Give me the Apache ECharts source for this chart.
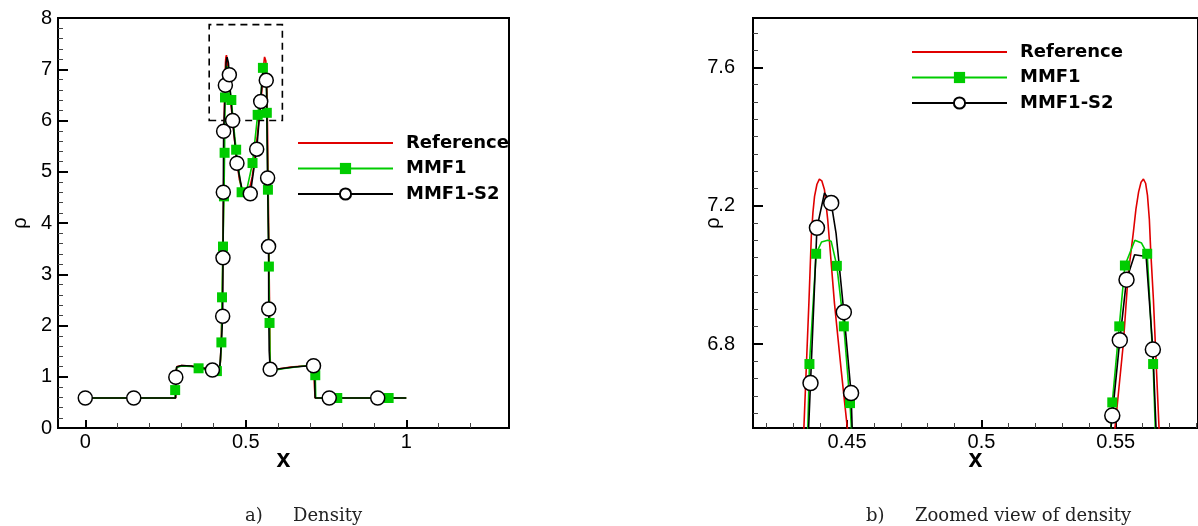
<!DOCTYPE html>
<html>
<head>
<meta charset="utf-8">
<script src="https://cdn.jsdelivr.net/npm/echarts@6/dist/echarts.min.js"></script>
<style>
  html, body { margin: 0; padding: 0; background: #fff; }
  #chart { width: 1198px; height: 526px; }
</style>
</head>
<body>
<div id="chart"></div>
<script>
// Density profiles rho(x): high-resolution reference and the two schemes
const referenceCurve = [
  [0, 0.585], [0.2815, 0.585], [0.2825, 1.12], [0.286, 1.2], [0.30, 1.22], [0.33, 1.21], [0.36, 1.18],
  [0.39, 1.14], [0.41, 1.12], [0.418, 1.13], [0.421, 1.3], [0.424, 1.8], [0.427, 2.6], [0.429, 3.5],
  [0.431, 4.6], [0.4325, 5.6], [0.4339, 6.55], [0.4348, 6.726], [0.4358, 6.919], [0.4367, 7.111],
  [0.4373, 7.18], [0.4379, 7.227], [0.4388, 7.262], [0.4397, 7.277], [0.4406, 7.272], [0.4416, 7.246],
  [0.4428, 7.16], [0.4453, 6.919], [0.4478, 6.726],
  [0.4499, 6.572], [0.452, 6.42], [0.46, 5.95], [0.47, 5.3], [0.48, 4.85], [0.49, 4.62], [0.50, 4.56],
  [0.51, 4.62], [0.52, 4.9], [0.53, 5.35], [0.54, 5.95], [0.5497, 6.557], [0.5528, 6.8], [0.5546, 7.0],
  [0.5565, 7.12], [0.5575, 7.19], [0.5585, 7.24], [0.5594, 7.268], [0.5603, 7.277], [0.5611, 7.265],
  [0.5618, 7.23], [0.5625, 7.16], [0.5630, 7.07], [0.5640, 6.93],
  [0.5650, 6.75], [0.5661, 6.557], [0.568, 5.7], [0.570, 4.6], [0.572, 3.5], [0.574, 2.4], [0.5755, 1.5],
  [0.577, 1.15], [0.58, 1.13], [0.60, 1.15], [0.64, 1.19], [0.68, 1.21], [0.708, 1.22], [0.712, 1.15],
  [0.714, 0.8], [0.716, 0.585], [1, 0.585]
];
const mmf1Curve = [
  [0, 0.585], [0.2795, 0.585], [0.2815, 0.9], [0.2845, 1.18], [0.30, 1.21], [0.33, 1.2], [0.353, 1.165],
  [0.38, 1.13], [0.41, 1.11], [0.418, 1.12], [0.421, 1.3], [0.424, 1.67], [0.426, 2.55], [0.429, 3.54],
  [0.432, 4.52], [0.434, 5.37], [0.4354, 6.557], [0.4360, 6.742], [0.4385, 7.061], [0.4405, 7.095],
  [0.4428, 7.1], [0.4441, 7.097], [0.4462, 7.026], [0.4488, 6.851], [0.4511, 6.629], [0.4516, 6.557],
  [0.455, 6.4], [0.462, 5.9], [0.470, 5.43], [0.487, 4.6], [0.50, 4.56], [0.521, 5.17], [0.537, 6.11],
  [0.5482, 6.557], [0.5487, 6.631], [0.5513, 6.851], [0.5534, 7.027], [0.5571, 7.1], [0.5596, 7.092],
  [0.5617, 7.061], [0.5639, 6.742], [0.5647, 6.557], [0.5655, 6.15], [0.569, 4.65], [0.572, 3.15],
  [0.574, 2.05], [0.576, 1.2], [0.58, 1.12], [0.62, 1.16], [0.68, 1.21], [0.711, 1.21], [0.7145, 1.1],
  [0.7165, 1.03], [0.718, 0.585], [1, 0.585]
];
const mmf1S2Curve = [
  [0, 0.585], [0.2815, 0.585], [0.2825, 0.99], [0.2845, 1.19], [0.30, 1.22], [0.33, 1.21], [0.36, 1.18],
  [0.396, 1.13], [0.418, 1.13], [0.421, 1.35], [0.425, 1.8], [0.428, 2.18], [0.429, 3.32], [0.430, 4.60],
  [0.431, 5.79], [0.4357, 6.557], [0.4364, 6.687], [0.4388, 7.136], [0.4416, 7.237], [0.4441, 7.208],
  [0.4459, 7.121], [0.4488, 6.892], [0.4515, 6.658], [0.4519, 6.557], [0.459, 6.0], [0.4725, 5.165],
  [0.49, 4.6], [0.514, 4.57], [0.534, 5.44], [0.5465, 6.37], [0.5482, 6.557], [0.5487, 6.593],
  [0.5515, 6.811], [0.554, 6.986], [0.557, 7.058], [0.5613, 7.053], [0.5638, 6.784], [0.5650, 6.552],
  [0.568, 4.88], [0.571, 3.54], [0.5715, 2.32], [0.573, 1.5], [0.576, 1.145], [0.60, 1.15], [0.65, 1.19],
  [0.69, 1.21], [0.711, 1.215], [0.714, 1.1], [0.716, 0.585], [1, 0.585]
];

// Symbol positions on the full-domain panel
const mmf1MarksFull = [
  [0.280, 0.74], [0.353, 1.165], [0.410, 1.11], [0.424, 1.67], [0.426, 2.55], [0.429, 3.54], [0.432, 4.52],
  [0.434, 5.37], [0.4352, 6.45], [0.455, 6.4], [0.470, 5.43], [0.487, 4.6], [0.521, 5.17], [0.537, 6.11],
  [0.5534, 7.027], [0.5655, 6.15], [0.569, 4.65], [0.572, 3.15], [0.574, 2.05], [0.7165, 1.03],
  [0.785, 0.585], [0.945, 0.585]
];
const mmf1S2MarksFull = [
  [0, 0.585], [0.151, 0.585], [0.282, 0.99], [0.396, 1.13], [0.428, 2.18], [0.429, 3.32], [0.430, 4.60],
  [0.431, 5.79], [0.4364, 6.687], [0.4488, 6.892], [0.459, 6.0], [0.4725, 5.165], [0.514, 4.57],
  [0.534, 5.44], [0.5465, 6.37], [0.5638, 6.784], [0.568, 4.88], [0.571, 3.54], [0.5715, 2.32],
  [0.576, 1.145], [0.711, 1.215], [0.760, 0.585], [0.911, 0.585]
];

// Symbol positions on the zoomed panel
const mmf1MarksZoom = [
  [0.4360, 6.742], [0.4385, 7.061], [0.4462, 7.026], [0.4488, 6.851], [0.4511, 6.629],
  [0.5487, 6.631], [0.5513, 6.851], [0.5534, 7.027], [0.5617, 7.061], [0.5639, 6.742]
];
const mmf1S2MarksZoom = [
  [0.4364, 6.687], [0.4388, 7.136], [0.4441, 7.208], [0.4488, 6.892], [0.4515, 6.658],
  [0.5487, 6.593], [0.5515, 6.811], [0.554, 6.986], [0.5638, 6.784]
];

// Window of the zoomed panel, outlined on the full panel
const zoomBoxX = [0.386, 0.614];
const zoomBoxY = [6.0, 7.87];

// Axis ranges and ticks
const xRangeFull = [-0.085, 1.32];
const yRangeFull = [0, 8];
const xTicksFull = [0, 0.5, 1];
const xMinorFull = [0.1, 0.2, 0.3, 0.4, 0.6, 0.7, 0.8, 0.9, 1.1, 1.2];
const yTicksFull = [0, 1, 2, 3, 4, 5, 6, 7, 8];
const xRangeZoom = [0.415, 0.5806];
const yRangeZoom = [6.557, 7.743];
const xTicksZoom = [0.45, 0.5, 0.55];
const xMinorZoom = [0.42, 0.43, 0.44, 0.46, 0.47, 0.48, 0.49, 0.51, 0.52, 0.53, 0.54, 0.56, 0.57, 0.58];
const yTicksZoom = [6.8, 7.2, 7.6];

const seriesNames = ['Reference', 'MMF1', 'MMF1-S2'];
const captionsLeft = ['a)', 'Density'];
const captionsRight = ['b)', 'Zoomed view of density'];

// minor ticks on y: every 0.2 (full) and every 0.05 (zoom), skipping major positions
function minorBetween(lo, hi, step, majors) {
  const out = [];
  const n = Math.round((hi - lo) / step);
  for (let i = 0; i <= n; i++) {
    const v = +(lo + i * step).toFixed(4);
    if (!majors.some(m => Math.abs(m - v) < 1e-6)) out.push(v);
  }
  return out;
}
const yMinorFull = minorBetween(0, 8, 0.2, yTicksFull);
const yMinorZoom = minorBetween(6.6, 7.7, 0.05, yTicksZoom);

const FONT = 'Liberation Sans';
const LEGEND_FONT = 'DejaVu Sans';
const RED = '#e00000', GREEN = '#00cc00', BLACK = '#000000';

function majorX(gridIndex, range, ticks) {
  return {
    type: 'value', gridIndex, min: range[0], max: range[1], position: 'bottom',
    name: 'x', nameLocation: 'middle', nameGap: 20, nameMoveOverlap: false,
    nameTextStyle: { fontFamily: FONT, fontWeight: 'bold', fontSize: 25, color: '#000' },
    axisLine: { show: false, onZero: false }, splitLine: { show: false },
    axisTick: { show: true, inside: true, length: 8, lineStyle: { color: '#000', width: 2 }, customValues: ticks },
    axisLabel: { show: true, customValues: ticks, margin: 4, fontFamily: FONT, fontSize: 20, color: '#000' }
  };
}
function minorX(gridIndex, range, ticks) {
  return {
    type: 'value', gridIndex, min: range[0], max: range[1], position: 'bottom',
    axisLine: { show: false, onZero: false }, splitLine: { show: false }, axisLabel: { show: false },
    axisTick: { show: true, inside: true, length: 5, lineStyle: { color: '#444', width: 1 }, customValues: ticks }
  };
}
function majorY(gridIndex, range, ticks, margin, gap) {
  return {
    type: 'value', gridIndex, min: range[0], max: range[1], position: 'left',
    name: '\u03C1', nameLocation: 'middle', nameGap: gap, nameRotate: 90, nameMoveOverlap: false,
    nameTextStyle: { fontFamily: FONT, fontSize: 20, color: '#000' },
    axisLine: { show: false, onZero: false }, splitLine: { show: false },
    axisTick: { show: true, inside: true, length: 10, lineStyle: { color: '#000', width: 2 }, customValues: ticks },
    axisLabel: { show: true, customValues: ticks, margin, fontFamily: FONT, fontSize: 20, color: '#000' }
  };
}
function minorY(gridIndex, range, ticks) {
  return {
    type: 'value', gridIndex, min: range[0], max: range[1], position: 'left',
    axisLine: { show: false, onZero: false }, splitLine: { show: false }, axisLabel: { show: false },
    axisTick: { show: true, inside: true, length: 5, lineStyle: { color: '#444', width: 1 }, customValues: ticks }
  };
}

function curveSeries(name, data, axisIdx, extra) {
  return Object.assign({
    type: 'line', name, data, xAxisIndex: axisIdx, yAxisIndex: axisIdx,
    showSymbol: false, silent: true, clip: true, animation: false
  }, extra);
}
function markSeries(name, data, axisIdx, extra) {
  return Object.assign({
    type: 'scatter', name, data, xAxisIndex: axisIdx, yAxisIndex: axisIdx,
    silent: true, clip: true, animation: false
  }, extra);
}

const refStyle = { symbol: 'none', lineStyle: { color: RED, width: 1.6 }, itemStyle: { color: RED }, z: 2 };
const mmf1Style = { symbol: 'rect', lineStyle: { color: GREEN, width: 1.6 }, itemStyle: { color: GREEN, opacity: 1 }, z: 3 };
const s2Style = { symbol: 'circle', lineStyle: { color: BLACK, width: 1.6 },
  itemStyle: { color: '#fff', borderColor: '#000', borderWidth: 1.5, opacity: 1 }, z: 4 };

function seriesFor(axisIdx, curves, marks, squareSize, circleSize, withBox) {
  const ref = curveSeries(seriesNames[0], curves[0], axisIdx, refStyle);
  if (withBox) {
    ref.markArea = {
      silent: true,
      itemStyle: { color: 'rgba(0,0,0,0)', borderColor: '#000', borderWidth: 1.6, borderType: [7, 5] },
      data: [[{ coord: [zoomBoxX[0], zoomBoxY[0]] }, { coord: [zoomBoxX[1], zoomBoxY[1]] }]]
    };
  }
  return [
    ref,
    curveSeries(seriesNames[1], curves[1], axisIdx, mmf1Style),
    curveSeries(seriesNames[2], curves[2], axisIdx, s2Style),
    markSeries(seriesNames[1], marks[0], axisIdx, { symbol: 'rect', symbolSize: squareSize,
      itemStyle: { color: GREEN, opacity: 1 }, z: 5 }),
    markSeries(seriesNames[2], marks[1], axisIdx, { symbol: 'circle', symbolSize: circleSize,
      itemStyle: { color: '#fff', borderColor: '#000', borderWidth: 1.5, opacity: 1 }, z: 6 })
  ];
}

const legendData = [
  { name: seriesNames[0], itemStyle: { opacity: 0 } },
  { name: seriesNames[1] },
  { name: seriesNames[2] }
];
function legendAt(left, top) {
  return {
    orient: 'vertical', left, top, itemWidth: 95, itemHeight: 14, itemGap: 7.5,
    selectedMode: false, data: legendData,
    textStyle: { fontFamily: LEGEND_FONT, fontWeight: 'bold', fontSize: 18, color: '#000', padding: [0, 0, 0, 8] }
  };
}

const chart = echarts.init(document.getElementById('chart'), null, { renderer: 'canvas' });
chart.setOption({
  animation: false,
  backgroundColor: '#fff',
  grid: [
    { left: 58, top: 18, width: 451, height: 410, show: true, borderColor: '#000', borderWidth: 2, backgroundColor: 'transparent' },
    { left: 753, top: 18, width: 447, height: 410, show: true, borderColor: '#000', borderWidth: 2, backgroundColor: 'transparent' }
  ],
  xAxis: [
    majorX(0, xRangeFull, xTicksFull), minorX(0, xRangeFull, xMinorFull),
    majorX(1, xRangeZoom, xTicksZoom), minorX(1, xRangeZoom, xMinorZoom)
  ],
  yAxis: [
    majorY(0, yRangeFull, yTicksFull, 6, 28), minorY(0, yRangeFull, yMinorFull),
    majorY(1, yRangeZoom, yTicksZoom, 18, 30), minorY(1, yRangeZoom, yMinorZoom)
  ],
  legend: [legendAt(292, 129), legendAt(906, 38)],
  series: [
    ...seriesFor(0, [referenceCurve, mmf1Curve, mmf1S2Curve], [mmf1MarksFull, mmf1S2MarksFull], 10, 14, true),
    ...seriesFor(2, [referenceCurve, mmf1Curve, mmf1S2Curve], [mmf1MarksZoom, mmf1S2MarksZoom], 10, 15, false)
  ],
  graphic: [
    { type: 'text', x: 245, y: 516, style: { text: captionsLeft[0], fontFamily: 'DejaVu Serif', fontSize: 18, fill: '#222', verticalAlign: 'middle' } },
    { type: 'text', x: 293, y: 516, style: { text: captionsLeft[1], fontFamily: 'DejaVu Serif', fontSize: 18, fill: '#222', verticalAlign: 'middle' } },
    { type: 'text', x: 866, y: 516, style: { text: captionsRight[0], fontFamily: 'DejaVu Serif', fontSize: 18, fill: '#222', verticalAlign: 'middle' } },
    { type: 'text', x: 915, y: 516, style: { text: captionsRight[1], fontFamily: 'DejaVu Serif', fontSize: 18, fill: '#222', verticalAlign: 'middle' } }
  ]
});
</script>
</body>
</html>
